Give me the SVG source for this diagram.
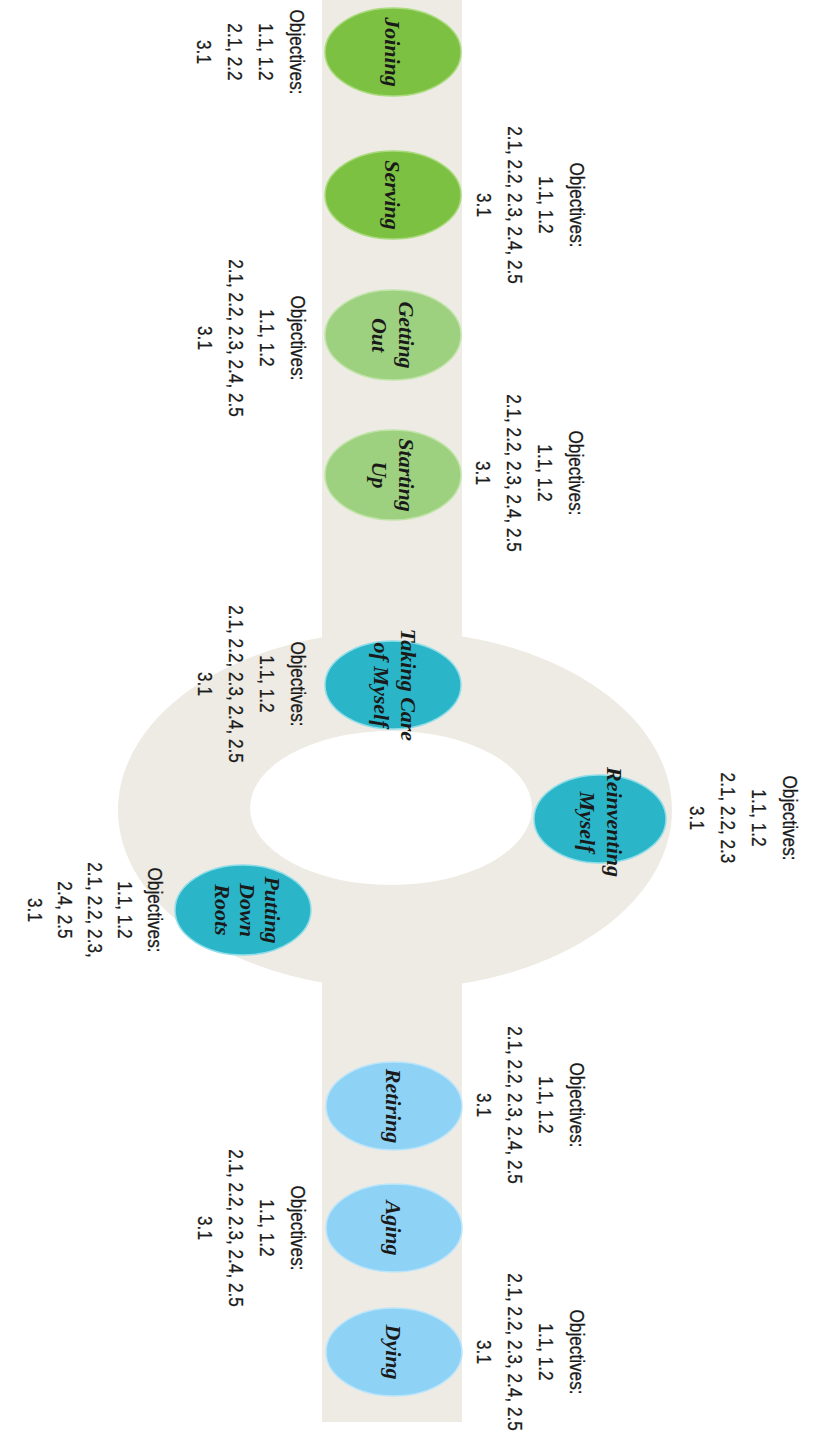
<svg xmlns="http://www.w3.org/2000/svg" width="817" height="1437" viewBox="0 0 817 1437">
<style>
.bg{fill:#EDEBE3}
.n1{fill:#7DC143;stroke:#A9DA7C;stroke-width:1.5}
.n2{fill:#9DD17F;stroke:#C0E4A8;stroke-width:1.5}
.n3{fill:#2BB5C8;stroke:#8EDDE8;stroke-width:1.5}
.n4{fill:#8ED2F6;stroke:#BDE5FA;stroke-width:1.5}
.nt{font-family:"Liberation Serif","Times New Roman",serif;font-weight:bold;font-style:italic;font-size:22px;fill:#1a1a1a;text-anchor:middle}
.ob{font-family:"Liberation Sans",Arial,sans-serif;font-size:20px;fill:#1a1a1a;stroke:#1a1a1a;stroke-width:0.3;text-anchor:middle}
</style>
<rect width="817" height="1437" fill="#ffffff"/>
<g id="track">
<rect class="bg" x="322" y="0" width="140" height="720"/>
<rect class="bg" x="322" y="900" width="140" height="522"/>
<ellipse class="bg" cx="395" cy="810" rx="277" ry="179"/>
<ellipse cx="391" cy="808" rx="141" ry="77" fill="#ffffff"/>
</g>

<g id="joining">
<ellipse class="n1" cx="393" cy="52" rx="68" ry="44"/>
<text class="nt" transform="translate(385,52) rotate(90)">Joining</text>
<text class="ob" transform="translate(290,52) rotate(90) scale(0.86,1)"><tspan x="0" dy="0">Objectives:</tspan><tspan x="0" dy="31">1.1, 1.2</tspan><tspan x="0" dy="31">2.1, 2.2</tspan><tspan x="0" dy="31">3.1</tspan></text>
</g>

<g id="serving">
<ellipse class="n1" cx="393" cy="195" rx="68" ry="44"/>
<text class="nt" transform="translate(385,195) rotate(90)">Serving</text>
<text class="ob" transform="translate(570,205) rotate(90) scale(0.86,1)"><tspan x="0" dy="0">Objectives:</tspan><tspan x="0" dy="31">1.1, 1.2</tspan><tspan x="0" dy="31">2.1, 2.2, 2.3, 2.4, 2.5</tspan><tspan x="0" dy="31">3.1</tspan></text>
</g>

<g id="getting-out">
<ellipse class="n2" cx="393" cy="335" rx="68" ry="45"/>
<text class="nt" transform="translate(399,335) rotate(90)"><tspan x="0" dy="0">Getting</tspan><tspan x="0" dy="27">Out</tspan></text>
<text class="ob" transform="translate(291,338) rotate(90) scale(0.86,1)"><tspan x="0" dy="0">Objectives:</tspan><tspan x="0" dy="31">1.1, 1.2</tspan><tspan x="0" dy="31">2.1, 2.2, 2.3, 2.4, 2.5</tspan><tspan x="0" dy="31">3.1</tspan></text>
</g>

<g id="starting-up">
<ellipse class="n2" cx="393" cy="475" rx="68" ry="45"/>
<text class="nt" transform="translate(399,475) rotate(90)"><tspan x="0" dy="0">Starting</tspan><tspan x="0" dy="27">Up</tspan></text>
<text class="ob" transform="translate(569,473) rotate(90) scale(0.86,1)"><tspan x="0" dy="0">Objectives:</tspan><tspan x="0" dy="31">1.1, 1.2</tspan><tspan x="0" dy="31">2.1, 2.2, 2.3, 2.4, 2.5</tspan><tspan x="0" dy="31">3.1</tspan></text>
</g>

<g id="taking-care">
<ellipse class="n3" cx="393" cy="685" rx="68" ry="44"/>
<text class="nt" transform="translate(401,685) rotate(90)"><tspan x="0" dy="0">Taking Care</tspan><tspan x="0" dy="27">of Myself</tspan></text>
<text class="ob" transform="translate(291,684) rotate(90) scale(0.86,1)"><tspan x="0" dy="0">Objectives:</tspan><tspan x="0" dy="31">1.1, 1.2</tspan><tspan x="0" dy="31">2.1, 2.2, 2.3, 2.4, 2.5</tspan><tspan x="0" dy="31">3.1</tspan></text>
</g>

<g id="reinventing">
<ellipse class="n3" cx="600" cy="819" rx="66" ry="44"/>
<text class="nt" transform="translate(607,822) rotate(90)"><tspan x="0" dy="0">Reinventing</tspan><tspan x="0" dy="27">Myself</tspan></text>
<text class="ob" transform="translate(783,818) rotate(90) scale(0.86,1)"><tspan x="0" dy="0">Objectives:</tspan><tspan x="0" dy="31">1.1, 1.2</tspan><tspan x="0" dy="31">2.1, 2.2, 2.3</tspan><tspan x="0" dy="31">3.1</tspan></text>
</g>

<g id="putting-down-roots">
<ellipse class="n3" cx="243" cy="910" rx="68" ry="45"/>
<text class="nt" transform="translate(265,910) rotate(90)"><tspan x="0" dy="0">Putting</tspan><tspan x="0" dy="25">Down</tspan><tspan x="0" dy="25">Roots</tspan></text>
<text class="ob" transform="translate(148,910) rotate(90) scale(0.86,1)"><tspan x="0" dy="0">Objectives:</tspan><tspan x="0" dy="30">1.1, 1.2</tspan><tspan x="0" dy="30">2.1, 2.2, 2.3,</tspan><tspan x="0" dy="30">2.4, 2.5</tspan><tspan x="0" dy="30">3.1</tspan></text>
</g>

<g id="retiring">
<ellipse class="n4" cx="394" cy="1106" rx="68" ry="44"/>
<text class="nt" transform="translate(386,1106) rotate(90)">Retiring</text>
<text class="ob" transform="translate(570,1105) rotate(90) scale(0.86,1)"><tspan x="0" dy="0">Objectives:</tspan><tspan x="0" dy="31">1.1, 1.2</tspan><tspan x="0" dy="31">2.1, 2.2, 2.3, 2.4, 2.5</tspan><tspan x="0" dy="31">3.1</tspan></text>
</g>

<g id="aging">
<ellipse class="n4" cx="394" cy="1228" rx="68" ry="44"/>
<text class="nt" transform="translate(386,1228) rotate(90)">Aging</text>
<text class="ob" transform="translate(291,1228) rotate(90) scale(0.86,1)"><tspan x="0" dy="0">Objectives:</tspan><tspan x="0" dy="31">1.1, 1.2</tspan><tspan x="0" dy="31">2.1, 2.2, 2.3, 2.4, 2.5</tspan><tspan x="0" dy="31">3.1</tspan></text>
</g>

<g id="dying">
<ellipse class="n4" cx="394" cy="1352" rx="68" ry="44"/>
<text class="nt" transform="translate(386,1352) rotate(90)">Dying</text>
<text class="ob" transform="translate(570,1352) rotate(90) scale(0.86,1)"><tspan x="0" dy="0">Objectives:</tspan><tspan x="0" dy="31">1.1, 1.2</tspan><tspan x="0" dy="31">2.1, 2.2, 2.3, 2.4, 2.5</tspan><tspan x="0" dy="31">3.1</tspan></text>
</g>
</svg>
